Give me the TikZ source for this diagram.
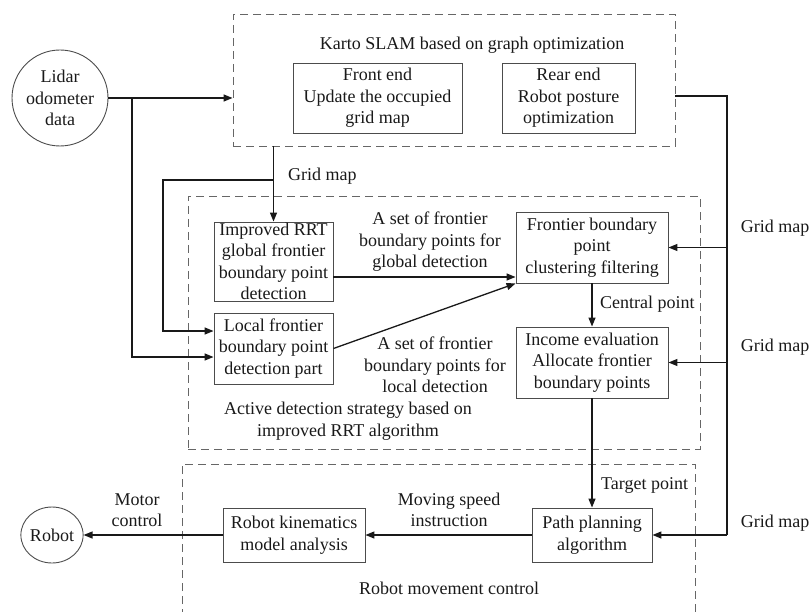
\documentclass[tikz,border=0pt]{standalone}
\usepackage{fontspec}
\setmainfont{Liberation Serif}
\usetikzlibrary{arrows.meta,shapes.geometric}
\begin{document}
\begin{tikzpicture}[x=1pt,y=-1pt,
  every node/.style={font=\fontsize{18}{21.5}\selectfont, text=black!90, inner sep=0pt, align=center},
  blk/.style={draw=black!70, line width=0.9pt},
  grp/.style={draw=black!60, line width=0.9pt, dash pattern=on 8pt off 5pt},
  conn/.style={draw=black!90, line width=1.3pt, -{Triangle[length=9pt,width=7pt]}},
  wire/.style={draw=black!90, line width=1.3pt}]
\useasboundingbox (0,0) rectangle (810,612);

% group boxes
\node[grp, minimum width=442pt, minimum height=132pt] (slam) at (454,80) {};
\node[grp, minimum width=512pt, minimum height=253pt] (active) at (444,322.5) {};
\draw[grp] (182,630) |- (695,464) -- (695,630);

% titles
\node (t1) at (472,45) {Karto SLAM based on graph optimization};
\node (t2) at (348,421) {Active detection strategy based on\\improved RRT algorithm};
\node (t3) at (449,588) {Robot movement control};

% nodes
\node[draw=black!70, line width=0.9pt, circle, minimum size=96pt] (lidar) at (60,98) {Lidar\\odometer\\data};
\node[blk, minimum width=169pt, minimum height=70pt] (front) at (377.5,98) {Front end\\Update the occupied\\grid map};
\node[blk, minimum width=133pt, minimum height=70pt] (rear) at (568.5,98) {Rear end\\Robot posture\\optimization};
\node[blk, minimum width=119pt, minimum height=79pt] (rrt) at (273.5,261.5) {Improved RRT\\global frontier\\boundary point\\detection};
\node[blk, minimum width=119pt, minimum height=71pt] (local) at (273.5,348.5) {Local frontier\\boundary point\\detection part};
\node[blk, minimum width=152pt, minimum height=71pt] (filter) at (592,247.5) {Frontier boundary\\point\\clustering filtering};
\node[blk, minimum width=152pt, minimum height=71pt] (income) at (592,362.5) {Income evaluation\\Allocate frontier\\boundary points};
\node[blk, minimum width=120pt, minimum height=54pt] (path) at (592,535) {Path planning\\algorithm};
\node[blk, minimum width=142pt, minimum height=54pt] (kin) at (294,535) {Robot kinematics\\model analysis};
\node[draw=black!70, line width=0.9pt, ellipse, minimum width=62pt, minimum height=56pt] (robot) at (52,535) {Robot};

% labels
\node[anchor=west] (lgm0) at (288,176) {Grid map};
\node[anchor=east] (lgm1) at (809.5,228) {Grid map};
\node[anchor=east] (lgm2) at (809.5,347) {Grid map};
\node[anchor=east] (lgm3) at (809.5,523) {Grid map};
\node (lglob) at (430,242) {A set of frontier\\boundary points for\\global detection};
\node (lloc) at (435,365) {A set of frontier\\boundary points for\\local detection};
\node[anchor=west] (lcen) at (600,304) {Central point};
\node[anchor=west] (ltar) at (601,485) {Target point};
\node (lmov) at (449,510) {Moving speed\\instruction};
\node (lmot) at (137,510) {Motor\\control};

% lidar connectors
\coordinate (b1) at (132,98);
\draw[conn] (lidar.east) -- (slam.west |- lidar.east);
\draw[conn] (b1) |- ([yshift=-8.5pt]local.west);

% grid map from SLAM
\coordinate (gb) at (273.5,180);
\draw[conn] (slam.south -| rrt.north) -- (rrt.north);
\draw[conn] (gb) -- (163,180) |- ([yshift=17.5pt]local.west);

% right grid map line
\coordinate (rs) at (727,96);
\draw[wire] ([yshift=-16pt]slam.east) -- (rs) -- (rs |- path.east);
\draw[conn] (rs |- filter.east) -- (filter.east);
\draw[conn] (rs |- income.east) -- (income.east);
\draw[conn] (rs |- path.east) -- (path.east);

% detection to filter
\coordinate (p1) at ([yshift=-15.5pt]rrt.east);
\draw[conn] (p1) -- (p1 -| filter.west);
\draw[conn] (local.east) -- (filter.south west);
\draw[conn] (filter.south) -- (income.north);
\draw[conn] (income.south) -- (path.north);

% bottom chain
\draw[conn] (path.west) -- (kin.east);
\draw[conn] (kin.west) -- (robot.east);
\end{tikzpicture}
\end{document}
